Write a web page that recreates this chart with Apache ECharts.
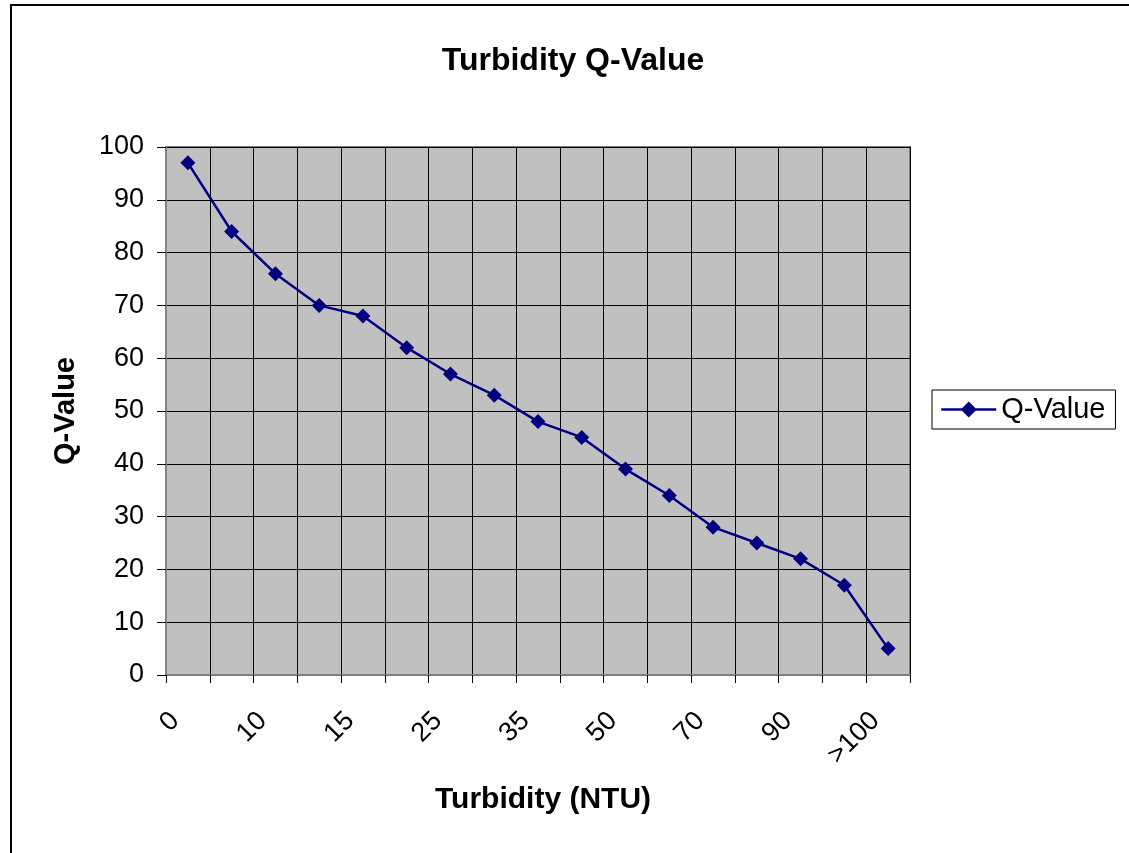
<!DOCTYPE html>
<html>
<head>
<meta charset="utf-8">
<script src="https://cdn.jsdelivr.net/npm/echarts@6/dist/echarts.min.js"></script>
<style>
html,body{margin:0;padding:0;background:#fff;overflow:hidden;}
#frame{position:absolute;left:10px;top:4px;width:1300px;height:1000px;border:2px solid #000;box-sizing:border-box;}
#chart{position:absolute;left:0;top:0;width:1129px;height:853px;}
</style>
</head>
<body>
<div id="frame"></div>
<div id="chart"></div>
<script>
const categories = ['0','5','10','12','15','20','25','30','35','40','50','60','70','80','90','100','>100'];
const qValues = [97,84,76,70,68,62,57,53,48,45,39,34,28,25,22,17,5];
const yTicks = [0,10,20,30,40,50,60,70,80,90,100];
const titleText = 'Turbidity Q-Value';
const xName = 'Turbidity (NTU)';
const yName = 'Q-Value';
const seriesName = 'Q-Value';

const FONT = '"Liberation Sans", Arial, sans-serif';
const chart = echarts.init(document.getElementById('chart'), null, {renderer:'canvas'});
chart.setOption({
  backgroundColor: 'transparent',
  animation: false,
  title: {
    text: titleText, left: 568, top: 40, textAlign: 'center',
    textStyle: {fontFamily: FONT, fontSize: 32, fontWeight: 'bold', color: '#000'}
  },
  legend: {
    data: [seriesName], orient: 'vertical', left: 932, top: 390,
    itemWidth: 55, itemHeight: 20, itemGap: 0,
    lineStyle: {width: 2.5},
    borderColor: '#000', borderWidth: 1, padding: [5, 10, 5, 8],
    textStyle: {fontFamily: FONT, fontSize: 29, color: '#000', padding: [0,0,0,0]}
  },
  grid: {
    left: 166, right: 219, top: 147, bottom: 178, containLabel: false,
    show: true, backgroundColor: '#C0C0C0', borderColor: '#808080', borderWidth: 2
  },
  xAxis: {
    type: 'category', data: categories, boundaryGap: true,
    name: xName, nameLocation: 'middle', nameGap: 110,
    nameTextStyle: {fontFamily: FONT, fontSize: 30, fontWeight: 'bold', color: '#000', padding: [0, 0, 0, 10]},
    axisLine: {show: true, lineStyle: {color: '#808080', width: 2}},
    axisTick: {show: true, interval: 0, length: 8, inside: false, lineStyle: {color: '#000', width: 1}},
    axisLabel: {interval: 1, rotate: 45, margin: 29, padding: [0, 18, 0, 0], fontFamily: FONT, fontSize: 27, color: '#000'},
    splitLine: {show: true, interval: 0, lineStyle: {color: '#000', width: 1}}
  },
  yAxis: {
    type: 'value', min: yTicks[0], max: yTicks[yTicks.length-1], interval: 10,
    name: yName, nameLocation: 'middle', nameGap: 86, nameRotate: 90,
    nameTextStyle: {fontFamily: FONT, fontSize: 29, fontWeight: 'bold', color: '#000'},
    axisLine: {show: true, lineStyle: {color: '#808080', width: 2}},
    axisTick: {show: true, length: 9, inside: false, lineStyle: {color: '#000', width: 1}},
    axisLabel: {margin: 22, fontFamily: FONT, fontSize: 27, color: '#000'},
    splitLine: {show: true, lineStyle: {color: '#000', width: 1}}
  },
  series: [{
    name: seriesName, type: 'line', data: qValues,
    symbol: 'diamond', symbolSize: 15, showSymbol: true,
    lineStyle: {color: '#000080', width: 2.5},
    itemStyle: {color: '#000080'}
  }]
});
</script>
</body>
</html>
